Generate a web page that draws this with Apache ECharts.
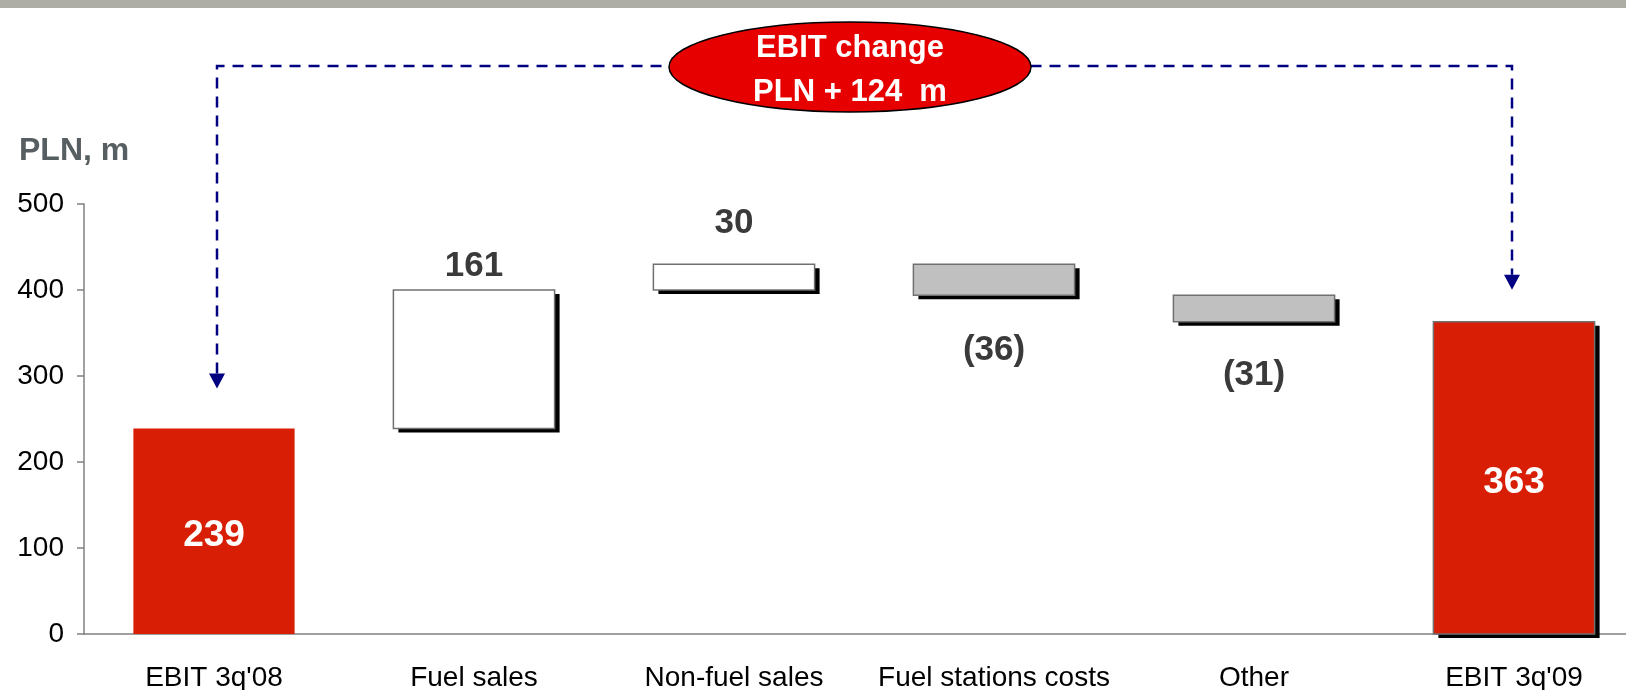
<!DOCTYPE html>
<html>
<head>
<meta charset="utf-8">
<title>EBIT 3q'08 - 3q'09</title>
<script src="https://cdn.jsdelivr.net/npm/echarts@6/dist/echarts.min.js"></script>
<style>
  html, body { margin: 0; padding: 0; background: #fff; overflow: hidden; }
  #main { width: 1626px; height: 690px; }
</style>
</head>
<body>
<div id="main"></div>
<script>
// data
const categories = ["EBIT 3q'08", 'Fuel sales', 'Non-fuel sales', 'Fuel stations costs', 'Other', "EBIT 3q'09"];
const startValue = 239;
const changes = [161, 30, -36, -31];
const endValue = 363;
const yMin = 0, yMax = 500, yStep = 100;

const FONT = '"Liberation Sans", Arial, sans-serif';
const RED = '#d81e05';
const NAVY = '#000080';

// waterfall rows: [category index, low, high]
const rows = [[0, 0, startValue]];
let running = startValue;
changes.forEach(function (c, k) {
    rows.push([k + 1, Math.min(running, running + c), Math.max(running, running + c)]);
    running += c;
});
rows.push([categories.length - 1, 0, endValue]);

// label text centre, px away from the bar edge
const labelOffset = [0, 24, 41, 55, 54, 0];

function barLook(i) {
    if (i === 0) return { fill: RED, stroke: null, shadow: false };
    if (i === categories.length - 1) return { fill: RED, stroke: '#707070', shadow: true };
    return { fill: changes[i - 1] >= 0 ? '#ffffff' : '#c0c0c0', stroke: '#707070', shadow: true };
}

function labelText(i) {
    if (i === 0) return String(startValue);
    if (i === categories.length - 1) return String(endValue);
    const c = changes[i - 1];
    return c >= 0 ? String(c) : '(' + Math.abs(c) + ')';
}

function renderItem(params, api) {
    const i = api.value(0);
    const lo = api.coord([i, api.value(1)]);
    const hi = api.coord([i, api.value(2)]);
    const w = api.size([1, 0])[0] * 0.62;
    const x = hi[0] - w / 2;
    const h = lo[1] - hi[1];
    const look = barLook(i);
    const isEnd = i === 0 || i === categories.length - 1;
    const children = [];
    if (look.shadow) {
        children.push({
            type: 'rect',
            shape: { x: x + 5, y: hi[1] + 4, width: w, height: h },
            style: { fill: '#000' }
        });
    }
    children.push({
        type: 'rect',
        shape: { x: x, y: hi[1], width: w, height: h },
        style: { fill: look.fill, stroke: look.stroke, lineWidth: look.stroke ? 1.5 : 0 }
    });
    let ty;
    if (isEnd) ty = (lo[1] + hi[1]) / 2 + 5;
    else if (changes[i - 1] >= 0) ty = hi[1] - labelOffset[i];
    else ty = lo[1] + labelOffset[i];
    children.push({
        type: 'text',
        x: hi[0],
        y: ty,
        style: {
            text: labelText(i),
            fill: isEnd ? '#ffffff' : '#3a3a3a',
            fontFamily: FONT,
            fontWeight: 'bold',
            fontSize: isEnd ? 37 : 35,
            align: 'center',
            verticalAlign: 'middle'
        }
    });
    return { type: 'group', children: children };
}

const chart = echarts.init(document.getElementById('main'));

chart.setOption({
    animation: false,
    backgroundColor: '#ffffff',
    title: {
        text: 'PLN, m',
        left: 14,
        top: 130,
        textStyle: { fontFamily: FONT, fontSize: 32, fontWeight: 'bold', color: '#575e61' }
    },
    grid: { left: 84, top: 204, width: 1560, height: 430, outerBoundsMode: 'none' },
    xAxis: {
        type: 'category',
        data: categories,
        axisLine: { lineStyle: { color: '#808080', width: 1.5 } },
        axisTick: { length: 9, lineStyle: { color: '#808080', width: 1.5 } },
        axisLabel: { interval: 0, margin: 30, fontFamily: FONT, fontSize: 28, color: '#000' }
    },
    yAxis: {
        type: 'value',
        min: yMin,
        max: yMax,
        interval: yStep,
        splitLine: { show: false },
        axisLine: { show: true, lineStyle: { color: '#808080', width: 1.5 } },
        axisTick: { show: true, length: 7, lineStyle: { color: '#808080', width: 1.5 } },
        axisLabel: { margin: 20, fontFamily: FONT, fontSize: 28, color: '#000' }
    },
    series: [
        {
            type: 'custom',
            renderItem: renderItem,
            clip: false,
            encode: { x: 0, y: [1, 2] },
            data: rows
        }
    ]
});

// connector + ellipse, placed from the axes
const first = chart.convertToPixel({ gridIndex: 0 }, [0, startValue]);
const last = chart.convertToPixel({ gridIndex: 0 }, [categories.length - 1, endValue]);
const xL = first[0] + 3, xR = last[0] - 2;
const lineY = 66;
const tipL = first[1] - 40;
const tipR = last[1] - 32;
const headH = 15, headW = 8;
const ecx = 850, ecy = 67;

chart.setOption({
    graphic: [
        { type: 'rect', shape: { x: 0, y: 0, width: 1626, height: 8 }, style: { fill: '#adada6' }, silent: true },
        {
            type: 'polyline',
            shape: { points: [[xL, tipL - headH], [xL, lineY], [xR, lineY], [xR, tipR - headH]] },
            style: { stroke: NAVY, lineWidth: 2.5, lineDash: [11, 8], fill: null },
            silent: true
        },
        {
            type: 'polygon',
            shape: { points: [[xL - headW, tipL - headH], [xL + headW, tipL - headH], [xL, tipL]] },
            style: { fill: NAVY },
            silent: true
        },
        {
            type: 'polygon',
            shape: { points: [[xR - headW, tipR - headH], [xR + headW, tipR - headH], [xR, tipR]] },
            style: { fill: NAVY },
            silent: true
        },
        {
            type: 'ellipse',
            shape: { cx: ecx, cy: ecy, rx: 181, ry: 45 },
            style: { fill: '#e60000', stroke: '#000', lineWidth: 1.5 },
            silent: true
        },
        {
            type: 'text',
            x: ecx,
            y: ecy + 3,
            style: {
                text: 'EBIT change\nPLN + ' + (endValue - startValue) + '  m',
                fill: '#fff',
                fontFamily: FONT,
                fontWeight: 'bold',
                fontSize: 31,
                lineHeight: 44,
                align: 'center',
                verticalAlign: 'middle'
            },
            silent: true
        }
    ]
});
</script>
</body>
</html>
